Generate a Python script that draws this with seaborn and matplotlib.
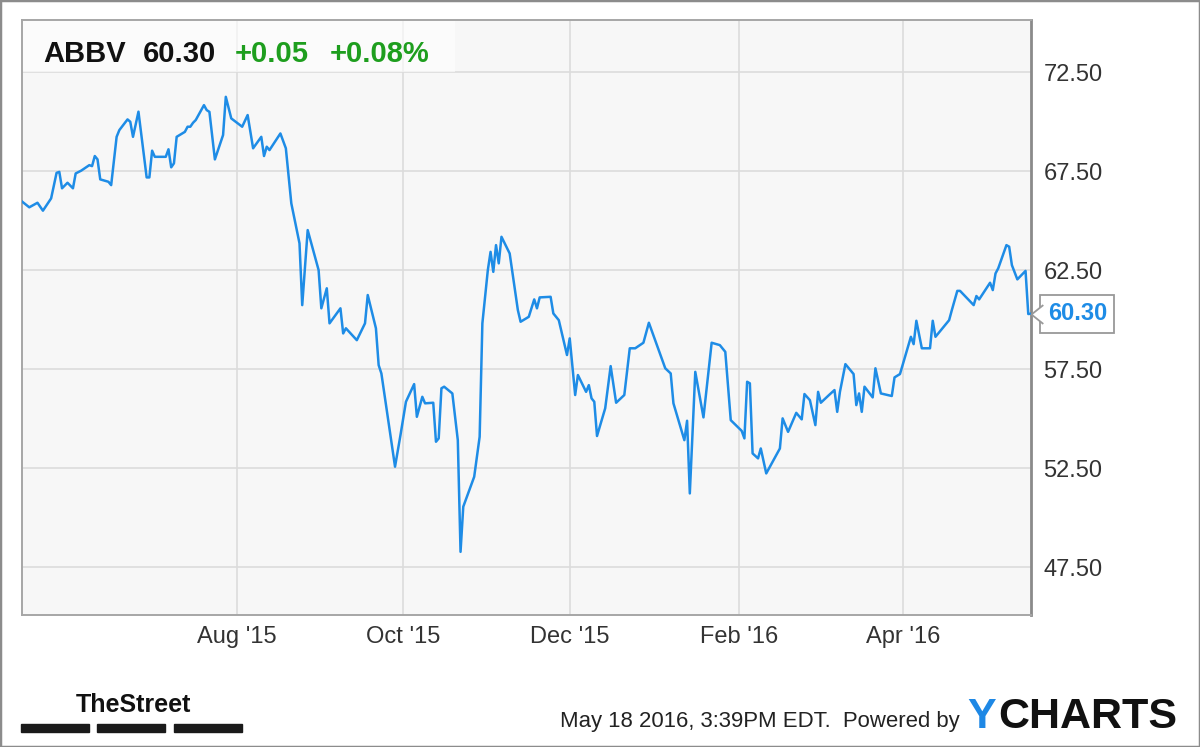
# ABBV one-year price chart, YCharts style
import pandas as pd
import seaborn as sns
from matplotlib import pyplot as plt
from matplotlib.patches import Rectangle
from matplotlib.path import Path

# price data
dates = [
    '2015-05-14', '2015-05-17', '2015-05-20', '2015-05-22', '2015-05-25', '2015-05-27',
    '2015-05-28', '2015-05-29', '2015-05-31', '2015-06-02', '2015-06-03', '2015-06-05',
    '2015-06-08', '2015-06-09', '2015-06-10', '2015-06-11', '2015-06-12', '2015-06-15',
    '2015-06-16', '2015-06-18', '2015-06-19', '2015-06-22', '2015-06-23', '2015-06-24',
    '2015-06-26', '2015-06-29', '2015-06-30', '2015-07-01', '2015-07-02', '2015-07-06',
    '2015-07-07', '2015-07-08', '2015-07-09', '2015-07-10', '2015-07-13', '2015-07-14',
    '2015-07-15', '2015-07-16', '2015-07-17', '2015-07-20', '2015-07-21', '2015-07-22',
    '2015-07-24', '2015-07-27', '2015-07-28', '2015-07-30', '2015-08-03', '2015-08-05',
    '2015-08-07', '2015-08-10', '2015-08-11', '2015-08-12', '2015-08-13', '2015-08-17',
    '2015-08-19', '2015-08-21', '2015-08-24', '2015-08-25', '2015-08-27', '2015-08-31',
    '2015-09-01', '2015-09-03', '2015-09-04', '2015-09-08', '2015-09-09', '2015-09-10',
    '2015-09-14', '2015-09-17', '2015-09-18', '2015-09-21', '2015-09-22', '2015-09-23',
    '2015-09-28', '2015-09-30', '2015-10-02', '2015-10-05', '2015-10-06', '2015-10-08',
    '2015-10-09', '2015-10-12', '2015-10-13', '2015-10-14', '2015-10-15', '2015-10-16',
    '2015-10-19', '2015-10-21', '2015-10-22', '2015-10-23', '2015-10-27', '2015-10-29',
    '2015-10-30', '2015-11-01', '2015-11-02', '2015-11-03', '2015-11-04', '2015-11-05',
    '2015-11-06', '2015-11-09', '2015-11-12', '2015-11-13', '2015-11-16', '2015-11-18',
    '2015-11-19', '2015-11-20', '2015-11-24', '2015-11-25', '2015-11-27', '2015-11-30',
    '2015-12-01', '2015-12-03', '2015-12-04', '2015-12-07', '2015-12-08', '2015-12-09',
    '2015-12-10', '2015-12-11', '2015-12-14', '2015-12-16', '2015-12-18', '2015-12-21',
    '2015-12-23', '2015-12-25', '2015-12-28', '2015-12-30', '2016-01-05', '2016-01-07',
    '2016-01-08', '2016-01-12', '2016-01-13', '2016-01-14', '2016-01-16', '2016-01-19',
    '2016-01-22', '2016-01-25', '2016-01-27', '2016-01-29', '2016-02-02', '2016-02-03',
    '2016-02-04', '2016-02-05', '2016-02-06', '2016-02-08', '2016-02-09', '2016-02-11',
    '2016-02-16', '2016-02-17', '2016-02-19', '2016-02-22', '2016-02-24', '2016-02-25',
    '2016-02-27', '2016-02-29', '2016-03-01', '2016-03-02', '2016-03-05', '2016-03-07',
    '2016-03-08', '2016-03-09', '2016-03-11', '2016-03-14', '2016-03-15', '2016-03-16',
    '2016-03-17', '2016-03-18', '2016-03-21', '2016-03-22', '2016-03-24', '2016-03-28',
    '2016-03-29', '2016-03-31', '2016-04-04', '2016-04-05', '2016-04-06', '2016-04-08',
    '2016-04-11', '2016-04-12', '2016-04-13', '2016-04-18', '2016-04-19', '2016-04-21',
    '2016-04-22', '2016-04-27', '2016-04-28', '2016-04-29', '2016-05-03', '2016-05-04',
    '2016-05-05', '2016-05-06', '2016-05-09', '2016-05-10', '2016-05-11', '2016-05-13',
    '2016-05-16', '2016-05-17', '2016-05-18',
]
prices = [
    66.00, 65.67, 65.90, 65.50, 66.12, 67.41, 67.46, 66.63, 66.91, 66.63, 67.38, 67.52,
    67.80, 67.75, 68.26, 68.09, 67.08, 66.96, 66.79, 69.23, 69.57, 70.11, 69.99, 69.23,
    70.50, 67.18, 67.18, 68.53, 68.22, 68.22, 68.60, 67.69, 67.89, 69.23, 69.48, 69.74,
    69.74, 69.94, 70.08, 70.83, 70.58, 70.49, 68.09, 69.32, 71.25, 70.16, 69.74, 70.33,
    68.65, 69.23, 68.26, 68.73, 68.56, 69.40, 68.65, 65.87, 63.85, 60.73, 64.52, 62.50,
    60.57, 61.58, 59.81, 60.57, 59.30, 59.56, 58.96, 59.81, 61.24, 59.56, 57.70, 57.28,
    52.57, 54.17, 55.85, 56.74, 55.09, 56.10, 55.77, 55.80, 53.83, 54.00, 56.53, 56.61,
    56.27, 53.91, 48.27, 50.55, 52.06, 54.08, 59.81, 62.50, 63.42, 62.41, 63.76, 62.84,
    64.18, 63.34, 60.48, 59.89, 60.14, 61.02, 60.57, 61.12, 61.15, 60.31, 59.97, 58.21,
    59.05, 56.19, 57.20, 56.35, 56.69, 56.02, 55.85, 54.12, 55.52, 57.65, 55.80, 56.19,
    58.55, 58.55, 58.83, 59.84, 57.54, 57.28, 55.77, 53.91, 54.89, 51.22, 57.36, 55.06,
    58.83, 58.71, 58.37, 54.92, 54.38, 54.00, 56.86, 56.78, 53.24, 52.99, 53.49, 52.23,
    53.49, 55.01, 54.33, 55.29, 54.96, 56.24, 55.93, 54.67, 56.35, 55.80, 56.19, 56.44,
    55.34, 56.35, 57.75, 57.25, 55.68, 56.27, 55.34, 56.61, 56.07, 57.54, 56.27, 56.14,
    57.08, 57.25, 59.13, 58.76, 59.94, 58.55, 58.55, 59.94, 59.13, 59.97, 60.48, 61.45,
    61.45, 60.73, 61.19, 61.02, 61.86, 61.49, 62.33, 62.59, 63.76, 63.68, 62.75, 62.03,
    62.46, 60.28, 60.30,
]

y_ticks = [47.5, 52.5, 57.5, 62.5, 67.5, 72.5]
x_ticks = ['2015-08-01', '2015-10-01', '2015-12-01', '2016-02-01', '2016-04-01']
x_labels = ["Aug '15", "Oct '15", "Dec '15", "Feb '16", "Apr '16"]

ticker = 'ABBV'
last_txt = '60.30'
change_txt = '+0.05'
pct_txt = '+0.08%'
stamp = 'May 18 2016, 3:39PM EDT.  Powered by'

line_blue = '#1e8ce6'
green = '#1e9e1e'

sns.set_style('white')
plt.rcParams['font.family'] = ['Liberation Sans', 'DejaVu Sans']

df = pd.DataFrame({'date': pd.to_datetime(dates), 'price': prices})

fig = plt.figure(figsize=(12, 7.47), dpi=100)
ax = fig.add_axes([22 / 1200, 132 / 747, 1009 / 1200, 595 / 747])
ax.set_facecolor('#f7f7f7')

sns.lineplot(data=df, x='date', y='price', ax=ax, color=line_blue, linewidth=1.8,
             estimator=None, sort=False, zorder=3)

ax.set_xlim(pd.Timestamp('2015-05-14 08:00'), pd.Timestamp('2016-05-18'))
ax.set_ylim(45.08, 75.13)

ax.set_xticks(pd.to_datetime(x_ticks))
ax.set_xticklabels(x_labels)
ax.set_yticks(y_ticks)
ax.set_yticklabels([f'{v:.2f}' for v in y_ticks])
ax.yaxis.tick_right()
ax.tick_params(axis='both', length=0, labelsize=17, labelcolor='#333333')
ax.tick_params(axis='x', pad=8)
ax.tick_params(axis='y', pad=9)
ax.set_xlabel('')
ax.set_ylabel('')

ax.grid(True, color='#dcdcdc', linewidth=1.2)
ax.set_axisbelow(True)
for side in ['left', 'top', 'bottom']:
    ax.spines[side].set_color('#a6a6a6')
    ax.spines[side].set_linewidth(1.4)
ax.spines['right'].set_color('#8a8a8a')
ax.spines['right'].set_linewidth(2)

# header panel
ax.add_patch(Rectangle((0, 0.9118), 0.429, 0.0882, transform=ax.transAxes,
                       facecolor='white', alpha=0.6, edgecolor='none', zorder=1.5))
fig.text(43 / 1200, 1 - 61.5 / 747, ticker, fontsize=21, fontweight='bold',
         color='#111111', va='baseline')
fig.text(143 / 1200, 1 - 61.5 / 747, last_txt, fontsize=21, fontweight='bold',
         color='#111111', va='baseline')
fig.text(235 / 1200, 1 - 61.5 / 747, change_txt, fontsize=21, fontweight='bold',
         color=green, va='baseline')
fig.text(330 / 1200, 1 - 61.5 / 747, pct_txt, fontsize=21, fontweight='bold',
         color=green, va='baseline')

# last price tag with notch
ax.annotate(last_txt, xy=(df['date'].iloc[-1], prices[-1]), xytext=(12, 0),
            textcoords='offset points', ha='left', va='center', fontsize=17,
            fontweight='bold', color=line_blue, annotation_clip=False, zorder=5,
            bbox=dict(boxstyle='square,pad=0.32', fc='white', ec='#999999', lw=1.3))
notch = Path([(1, 0.8), (0, 0), (1, -0.8)])
ax.plot([df['date'].iloc[-1]], [prices[-1]], marker=notch, ms=17, mfc='white',
        mec='#999999', mew=1.3, clip_on=False, zorder=6, linestyle='none')

# footer
fig.text(76 / 1200, 1 - 712 / 747, 'TheStreet', fontsize=18, fontweight='bold',
         color='#111111', va='baseline')
for x0 in [21, 97, 174]:
    fig.patches.append(Rectangle((x0 / 1200, 1 - 732 / 747), 68 / 1200, 8 / 747,
                                 transform=fig.transFigure, color='#1a1a1a'))
fig.text(560 / 1200, 1 - 727 / 747, stamp, fontsize=15.9, color='#222222',
         va='baseline')
fig.text(967 / 1200, 1 - 728 / 747, 'Y', fontsize=31, fontweight='bold',
         color='#1e88e5', va='baseline')
fig.text(998 / 1200, 1 - 728 / 747, 'CHARTS', fontsize=31, fontweight='bold',
         color='#111111', va='baseline')

fig.patches.append(Rectangle((0, 0), 1, 1, transform=fig.transFigure, fill=False,
                             edgecolor='#8c8c8c', linewidth=2.5))

fig.savefig('out.png', dpi=100)
